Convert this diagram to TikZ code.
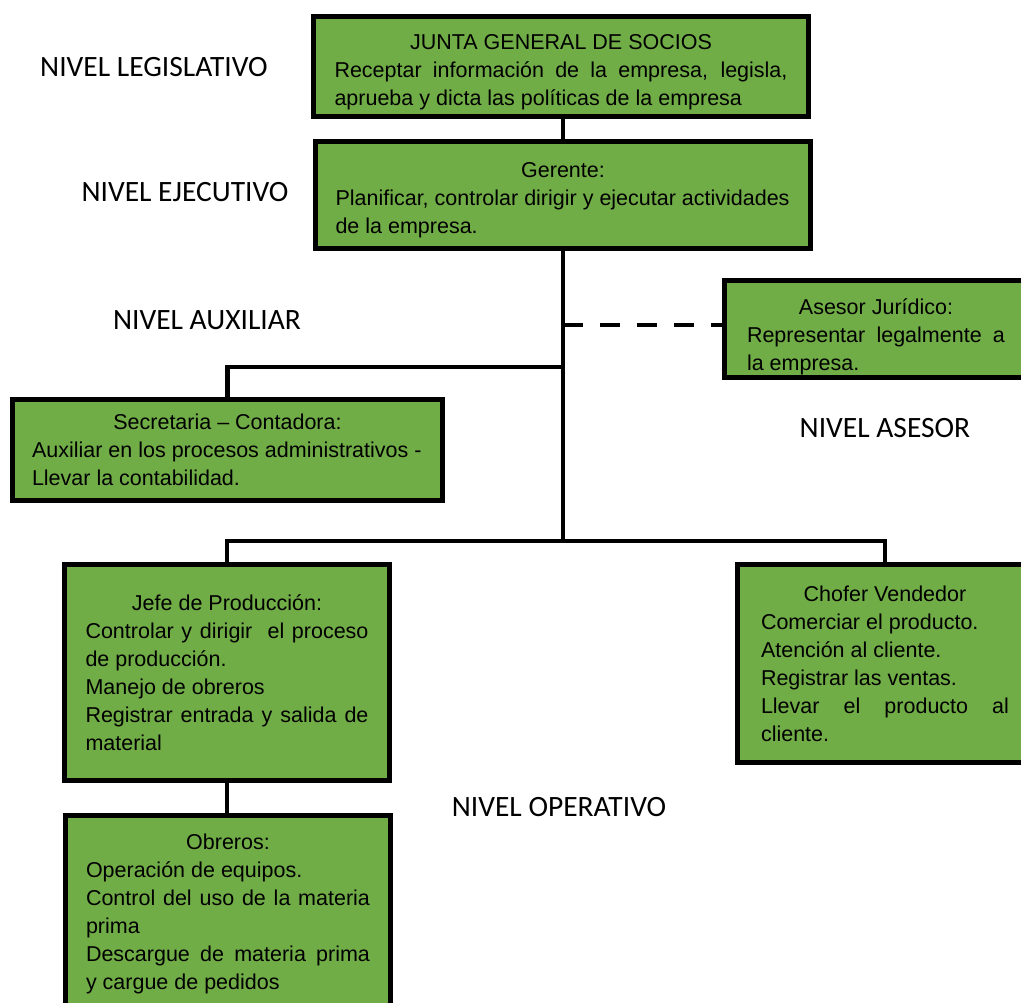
\documentclass[tikz,border=0pt]{standalone}
\usepackage{fontspec}
\usepackage{xcolor}
\usepackage{tikz}
\setmainfont{Liberation Sans}
\newfontfamily\nivelfont{Carlito}
\definecolor{cargogreen}{RGB}{112,173,71}
\hyphenpenalty=10000
\exhyphenpenalty=10000
\emergencystretch=20pt
\hbadness=10000
\hfuzz=20pt

\tikzset{
  cargo/.style={draw, line width=5pt, fill=cargogreen, inner sep=0pt,
    align=justify, font=\fontsize{21.5}{28}\selectfont},
  nivel/.style={font=\nivelfont\fontsize{29.5}{34}\selectfont},
  linea/.style={line width=4.5pt},
  asesoria/.style={line width=4.5pt, dash pattern=on 20pt off 17pt}
}

\begin{document}
\begin{tikzpicture}[x=1pt, y=-1pt]
  \useasboundingbox (0, 0) rectangle (1021, 1003);
  \clip (0, 0) rectangle (1021, 1003);

  % Draw the boxes
  \node[cargo, text width=453pt, minimum width=495pt, minimum height=100pt] (junta) at (561, 66.5)
    {{\centering\rule{0pt}{26pt}JUNTA GENERAL DE SOCIOS\par}
     Receptar información de la empresa, legisla,\linebreak
     aprueba y dicta las políticas de la empresa};
  \node[cargo, text width=455pt, minimum width=495pt, minimum height=107pt] (gerente) at (563, 195)
    {{\centering\rule{0pt}{26pt}Gerente:\par}
     {\raggedright Planificar, controlar dirigir y ejecutar actividades\newline
     de la empresa.\par}};
  \node[cargo, text width=258pt, minimum width=303pt, minimum height=97pt] (asesor) at (876, 329)
    {{\centering\rule{0pt}{32pt}Asesor Jurídico:\par}
     Representar legalmente a\linebreak
     la empresa.};
  \node[cargo, text width=391pt, minimum width=430pt, minimum height=101pt] (secretaria) at (227.5, 450)
    {{\centering Secretaria – Contadora:\par}
     {\raggedright Auxiliar en los procesos administrativos -\newline
     Llevar la contabilidad.\par}};
  \node[cargo, text width=283pt, minimum width=325pt, minimum height=216pt] (jefe) at (227, 672.5)
    {{\centering Jefe de Producción:\par}
     Controlar y dirigir~ el proceso\linebreak
     de producción.\par
     Manejo de obreros\par
     Registrar entrada y salida de\linebreak
     material};
  \node[cargo, text width=248pt, minimum width=295pt, minimum height=198pt] (chofer) at (885, 663.5)
    {{\centering Chofer Vendedor\par}
     Comerciar el producto.\par
     Atención al cliente.\par
     Registrar las ventas.\par
     Llevar el producto al\linebreak
     cliente.};
  \node[cargo, text width=284pt, minimum width=325pt, minimum height=191pt] (obreros) at (228, 911)
    {{\centering\rule{0pt}{22pt}Obreros:\par}
     Operación de equipos.\par
     Control del uso de la materia\linebreak
     prima\par
     Descargue de materia prima\linebreak
     y cargue de pedidos};

  % Draw the level names
  \node[nivel] (legislativo) at (154, 67) {NIVEL LEGISLATIVO};
  \node[nivel] (ejecutivo) at (185, 192) {NIVEL EJECUTIVO};
  \node[nivel] (auxiliar) at (207, 320) {NIVEL AUXILIAR};
  \node[nivel] (asesorniv) at (885, 428) {NIVEL ASESOR};
  \node[nivel] (operativo) at (559, 807) {NIVEL OPERATIVO};

  % Draw the connectors
  \coordinate (ase) at (563, 325);
  \coordinate (aux) at (563, 367);
  \coordinate (ope) at (563, 541);
  \draw[linea] (gerente.north) -- (gerente.north |- junta.south);
  \draw[linea] (gerente.south) -- (ope);
  \draw[asesoria] (ase) -- (ase -| asesor.west);
  \draw[linea] (aux) -| (secretaria.north);
  \draw[linea] (jefe.north) |- (ope) -| (chofer.north);
  \draw[linea] (jefe.south) -- (jefe.south |- obreros.north);
\end{tikzpicture}
\end{document}
